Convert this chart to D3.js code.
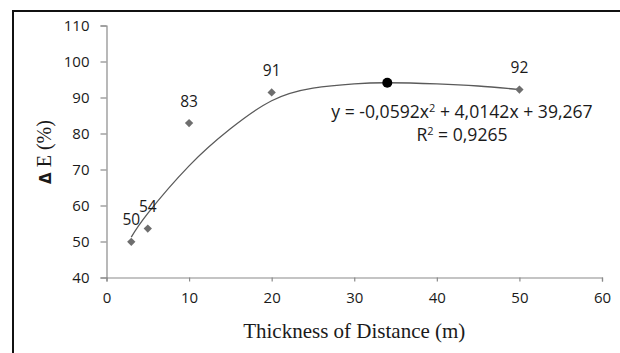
<!DOCTYPE html>
<html>
<head>
<meta charset="utf-8">
<script src="https://cdn.jsdelivr.net/npm/d3@7/dist/d3.min.js"></script>
<style>
  html, body { margin: 0; padding: 0; background: #fff; }
  svg { display: block; }
</style>
</head>
<body>
<svg id="chart" width="620" height="353"></svg>
<script>
// Measured points: removal efficiency vs. thickness of distance
const distance = [3, 5, 10, 20, 50];
const deltaE = [49.9, 53.6, 82.9, 91.4, 92.2];

// Highlighted optimum point
const peakX = [34];
const peakY = [94.1];

// Smoothed trend line samples
const trendX = [3, 5, 10, 15, 20, 25, 30, 34, 40, 45, 50];
const trendY = [51.2, 57.8, 71.0, 81.3, 89.1, 92.6, 93.8, 94.1, 93.8, 93.2, 92.2];

// Axis ticks
const xTicks = [0, 10, 20, 30, 40, 50, 60];
const yTicks = [40, 50, 60, 70, 80, 90, 100, 110];

// Fit annotation
const equationLines = ["y = -0,0592x", "R", "= 0,9265"];

const svg = d3.select("#chart");
const sans = "'Open Sans', 'Noto Sans', sans-serif";
const serif = "'Liberation Serif', 'DejaVu Serif', serif";

// Outer frame
svg.append("rect")
  .attr("x", 13).attr("y", 11)
  .attr("width", 640).attr("height", 380)
  .attr("fill", "none")
  .attr("stroke", "#111")
  .attr("stroke-width", 2);

const x = d3.scaleLinear().domain([0, 60]).range([106.5, 602]);
const y = d3.scaleLinear().domain([40, 110]).range([277.5, 25.5]);

// Y axis
const yAxis = svg.append("g")
  .attr("transform", `translate(${x(0)},0)`)
  .call(d3.axisLeft(y).tickValues(yTicks).tickSize(6).tickPadding(11).tickFormat(d3.format("d")));

// X axis
const xAxis = svg.append("g")
  .attr("transform", `translate(0,${y(40)})`)
  .call(d3.axisBottom(x).tickValues(xTicks).tickSize(4).tickPadding(11).tickFormat(d3.format("d")));

[yAxis, xAxis].forEach(g => {
  g.select(".domain").attr("stroke", "#8a8a8a").attr("stroke-width", 1.2);
  g.selectAll(".tick line").attr("stroke", "#8a8a8a").attr("stroke-width", 1.2);
  g.selectAll(".tick text")
    .attr("fill", "#1a1a1a")
    .style("font-family", sans)
    .style("font-size", "15px");
});

// Trend curve
const line = d3.line()
  .x(d => x(d[0]))
  .y(d => y(d[1]))
  .curve(d3.curveNatural);

svg.append("path")
  .datum(d3.zip(trendX, trendY))
  .attr("d", line)
  .attr("fill", "none")
  .attr("stroke", "#5a5a5a")
  .attr("stroke-width", 1.3);

// Diamond markers
const pts = d3.zip(distance, deltaE);
svg.append("g").selectAll("path")
  .data(pts)
  .join("path")
  .attr("transform", d => `translate(${x(d[0])},${y(d[1])})`)
  .attr("d", d3.symbol().type(d3.symbolDiamond2).size(44))
  .attr("fill", "#6e6e6e");

// Value labels
const fmt = d3.format(".0f");
svg.append("g").selectAll("text")
  .data(pts)
  .join("text")
  .attr("x", d => x(d[0]))
  .attr("y", d => y(d[1]) - 16.5)
  .attr("text-anchor", "middle")
  .attr("fill", "#1a1a1a")
  .style("font-family", sans)
  .style("font-size", "15.5px")
  .text(d => fmt(d[1]));

// Optimum point
svg.append("g").selectAll("circle")
  .data(d3.zip(peakX, peakY))
  .join("circle")
  .attr("cx", d => x(d[0]))
  .attr("cy", d => y(d[1]))
  .attr("r", 5)
  .attr("fill", "#000");

// Regression equation
const eq = svg.append("g")
  .attr("fill", "#1a1a1a")
  .style("font-family", sans)
  .style("font-size", "17.6px");

const t1 = eq.append("text").attr("x", 462).attr("y", 117.5).attr("text-anchor", "middle");
t1.append("tspan").text(equationLines[0]);
t1.append("tspan").attr("dy", -6).style("font-size", "11px").text("2");
t1.append("tspan").attr("dy", 6).text(" + 4,0142x + 39,267");

const t2 = eq.append("text").attr("x", 462).attr("y", 141).attr("text-anchor", "middle");
t2.append("tspan").text(equationLines[1]);
t2.append("tspan").attr("dy", -6).style("font-size", "11px").text("2");
t2.append("tspan").attr("dy", 6).text(" " + equationLines[2]);

// Axis titles
svg.append("text")
  .attr("x", x(30))
  .attr("y", 338)
  .attr("text-anchor", "middle")
  .attr("fill", "#1a1a1a")
  .style("font-family", serif)
  .style("font-size", "21px")
  .text("Thickness of Distance (m)");

const yt = svg.append("text")
  .attr("transform", "translate(51,152) rotate(-90)")
  .attr("text-anchor", "middle")
  .attr("fill", "#1a1a1a")
  .style("font-family", serif)
  .style("font-size", "20px");
yt.append("tspan").style("font-weight", "bold").style("font-family", "'DejaVu Sans', sans-serif").style("font-size", "15px").text("Δ");
yt.append("tspan").text(" E (%)");
</script>
</body>
</html>
